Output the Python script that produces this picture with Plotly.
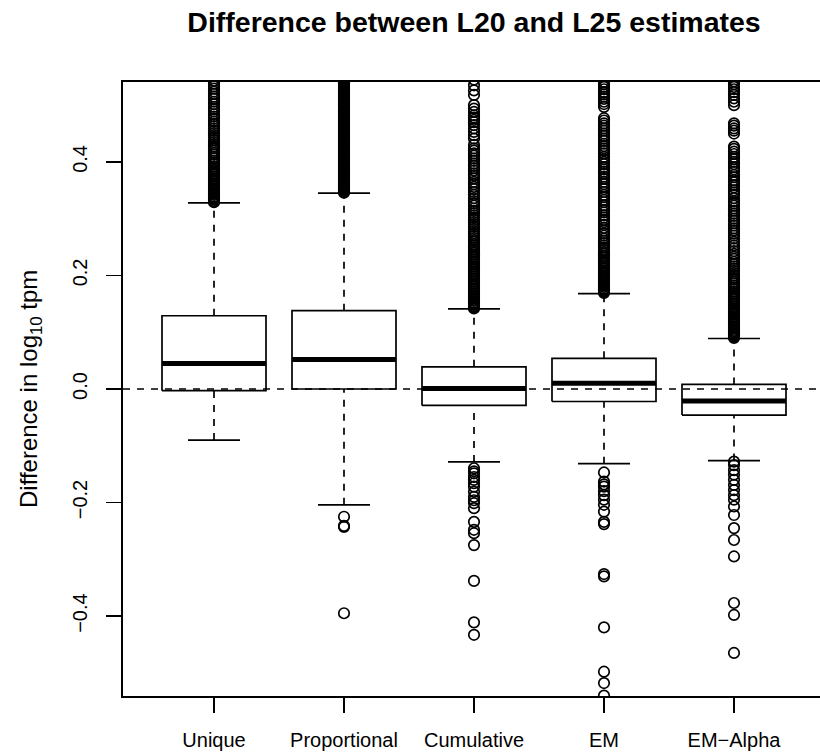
import plotly.graph_objects as go

categories = ["Unique", "Proportional", "Cumulative", "EM", "EM\u2212Alpha"]
q1 = [-0.003, 0.000, -0.029, -0.022, -0.046]
median = [0.045, 0.052, 0.001, 0.010, -0.021]
q3 = [0.129, 0.138, 0.039, 0.054, 0.008]
lower_whisker = [-0.090, -0.204, -0.1285, -0.1315, -0.126]
upper_whisker = [0.328, 0.345, 0.141, 0.168, 0.089]

out_unique = [0.329, 0.331, 0.333, 0.335, 0.337, 0.339, 0.342, 0.344, 0.346, 0.349, 0.351, 0.354,
              0.357, 0.359, 0.362, 0.365, 0.368, 0.371, 0.374, 0.377, 0.380, 0.383, 0.386, 0.389,
              0.392, 0.396, 0.399, 0.402, 0.406, 0.409, 0.413, 0.416, 0.420, 0.424, 0.427, 0.431,
              0.435, 0.439, 0.443, 0.447, 0.451, 0.455, 0.459, 0.463, 0.467, 0.471, 0.476, 0.480,
              0.484, 0.489, 0.493, 0.497, 0.502, 0.506, 0.511, 0.515, 0.520, 0.524, 0.529, 0.533,
              0.538, 0.543]
out_proportional = [0.346, 0.347, 0.349, 0.350, 0.352, 0.353, 0.355, 0.357, 0.358, 0.360, 0.362,
                    0.363, 0.365, 0.367, 0.369, 0.370, 0.372, 0.374, 0.376, 0.378, 0.380, 0.381,
                    0.383, 0.385, 0.387, 0.389, 0.391, 0.393, 0.395, 0.397, 0.399, 0.401, 0.403,
                    0.405, 0.407, 0.409, 0.411, 0.413, 0.415, 0.417, 0.419, 0.421, 0.423, 0.425,
                    0.427, 0.429, 0.431, 0.433, 0.435, 0.437, 0.439, 0.441, 0.443, 0.445, 0.447,
                    0.449, 0.451, 0.453, 0.455, 0.457, 0.459, 0.461, 0.463, 0.465, 0.467, 0.469,
                    0.471, 0.473, 0.475, 0.477, 0.479, 0.481, 0.483, 0.485, 0.487, 0.489, 0.491,
                    0.493, 0.495, 0.497, 0.499, 0.501, 0.503, 0.505, 0.507, 0.509, 0.511, 0.513,
                    0.515, 0.517, 0.519, 0.521, 0.523, 0.525, 0.527, 0.529, 0.531, 0.533, 0.535,
                    0.537, 0.539, 0.541, 0.544,
                    -0.225, -0.241, -0.243, -0.395]
out_cumulative = [0.142, 0.144, 0.146, 0.148, 0.150, 0.152, 0.155, 0.157, 0.159, 0.162, 0.164,
                  0.167, 0.169, 0.172, 0.175, 0.177, 0.180, 0.183, 0.186, 0.189, 0.192, 0.195,
                  0.198, 0.201, 0.204, 0.207, 0.210, 0.213, 0.216, 0.219, 0.222, 0.225, 0.228,
                  0.231, 0.234, 0.237, 0.240, 0.243, 0.246, 0.249, 0.252, 0.255, 0.259, 0.262,
                  0.266, 0.270, 0.274, 0.278, 0.282, 0.286, 0.290, 0.294, 0.298,
                  0.302, 0.306, 0.310, 0.314, 0.318, 0.323, 0.327, 0.331, 0.336, 0.342, 0.347,
                  0.352, 0.356, 0.361, 0.365, 0.371, 0.376, 0.380, 0.385, 0.389, 0.393, 0.397,
                  0.402, 0.406, 0.411, 0.415, 0.420, 0.424, 0.430, 0.441, 0.447, 0.453, 0.459,
                  0.465, 0.470, 0.474, 0.478, 0.482, 0.488, 0.494, 0.500, 0.518, 0.526, 0.535,
                  0.545,
                  -0.1396, -0.145, -0.1485, -0.155, -0.160, -0.166, -0.172, -0.181, -0.190,
                  -0.196, -0.201, -0.210, -0.234, -0.248, -0.254, -0.275, -0.338, -0.411, -0.433]
out_em = [0.169, 0.171, 0.173, 0.175, 0.177, 0.180, 0.182, 0.184, 0.187, 0.189, 0.192, 0.194,
          0.197, 0.200, 0.203, 0.206, 0.209, 0.212, 0.215, 0.218, 0.221, 0.224, 0.227, 0.231,
          0.234, 0.238, 0.241, 0.245, 0.249, 0.253, 0.257, 0.261, 0.265, 0.270, 0.274, 0.279,
          0.284,
          0.289, 0.294, 0.298, 0.302, 0.306, 0.311, 0.315, 0.320, 0.324, 0.329, 0.333, 0.338,
          0.342, 0.347, 0.352, 0.356, 0.361, 0.365, 0.370, 0.374, 0.379, 0.383, 0.387, 0.391,
          0.396, 0.400, 0.405, 0.409, 0.415, 0.420, 0.424, 0.428, 0.432, 0.437, 0.441, 0.446,
          0.450, 0.455, 0.459, 0.464, 0.468, 0.473, 0.477, 0.497, 0.502, 0.506, 0.511, 0.515,
          0.519, 0.523, 0.528, 0.532, 0.537, 0.541,
          -0.147, -0.163, -0.168, -0.172, -0.180, -0.187, -0.195, -0.204, -0.216, -0.234,
          -0.238, -0.326, -0.330, -0.420, -0.498, -0.518, -0.540]
out_em_alpha = [0.090, 0.092, 0.094, 0.096, 0.098, 0.100, 0.102, 0.104, 0.107, 0.109, 0.111,
                0.114, 0.116, 0.118, 0.121, 0.123, 0.126, 0.128, 0.131, 0.134, 0.136, 0.139,
                0.142, 0.145, 0.148, 0.151, 0.154, 0.157, 0.160, 0.163, 0.166, 0.169, 0.172,
                0.176, 0.179, 0.182, 0.186, 0.189, 0.193, 0.196, 0.200, 0.204, 0.208, 0.212,
                0.216, 0.220, 0.224, 0.229, 0.233, 0.238, 0.243, 0.248, 0.253, 0.259,
                0.265, 0.270, 0.274, 0.279, 0.283, 0.288, 0.292, 0.296, 0.300, 0.305, 0.309,
                0.314, 0.318, 0.323, 0.327, 0.331, 0.336, 0.342, 0.346, 0.350, 0.355, 0.359,
                0.364, 0.368, 0.373, 0.377, 0.383, 0.387, 0.391, 0.396, 0.400, 0.405, 0.409,
                0.414, 0.418, 0.423, 0.427, 0.450, 0.455, 0.459, 0.464, 0.468, 0.500, 0.506,
                0.512, 0.518, 0.523, 0.528, 0.532, 0.537, 0.542,
                -0.128, -0.134, -0.143, -0.151, -0.160, -0.169, -0.178, -0.187, -0.195, -0.207,
                -0.222, -0.245, -0.266, -0.295, -0.377, -0.398, -0.465]
outliers = [out_unique, out_proportional, out_cumulative, out_em, out_em_alpha]

ytick_vals = [-0.4, -0.2, 0.0, 0.2, 0.4]
ytick_text = ["\u22120.4", "\u22120.2", "0.0", "0.2", "0.4"]

FONT = "Liberation Sans, Arial, Helvetica, sans-serif"
LW = 1.7
BOXW = 0.8
CAPW = 0.4

fig = go.Figure()
line = dict(color="black", width=LW)
dline = dict(color="black", width=LW, dash="7px,7px")

for i, cat in enumerate(categories):
    x = i + 1
    # whiskers (dashed)
    fig.add_trace(go.Scatter(x=[x, x], y=[q3[i], upper_whisker[i]], mode="lines", line=dline,
                             hoverinfo="skip", showlegend=False))
    fig.add_trace(go.Scatter(x=[x, x], y=[lower_whisker[i], q1[i]], mode="lines", line=dline,
                             hoverinfo="skip", showlegend=False))
    # caps
    fig.add_trace(go.Scatter(x=[x - CAPW / 2, x + CAPW / 2], y=[upper_whisker[i]] * 2, mode="lines",
                             line=line, hoverinfo="skip", showlegend=False))
    fig.add_trace(go.Scatter(x=[x - CAPW / 2, x + CAPW / 2], y=[lower_whisker[i]] * 2, mode="lines",
                             line=line, hoverinfo="skip", showlegend=False))
    # box
    fig.add_trace(go.Scatter(x=[x - BOXW / 2, x + BOXW / 2, x + BOXW / 2, x - BOXW / 2, x - BOXW / 2],
                             y=[q1[i], q1[i], q3[i], q3[i], q1[i]], mode="lines", line=line,
                             hoverinfo="skip", showlegend=False))
    # median
    fig.add_trace(go.Scatter(x=[x - BOXW / 2, x + BOXW / 2], y=[median[i]] * 2, mode="lines",
                             line=dict(color="black", width=5), hoverinfo="skip", showlegend=False))
    # outliers
    if outliers[i]:
        fig.add_trace(go.Scatter(x=[x] * len(outliers[i]), y=outliers[i], mode="markers",
                                 marker=dict(symbol="circle-open", size=10.5, color="black",
                                             line=dict(color="black", width=LW)),
                                 hoverinfo="skip", showlegend=False))

# horizontal dashed reference line at 0
fig.add_shape(type="line", xref="paper", x0=0, x1=1, yref="y", y0=0, y1=0,
              line=dict(color="black", width=LW, dash="7px,7px"), layer="above")

# figure slightly wider than the window so the right frame edge falls off-screen (as in the reference)
W, H = 826, 753
ML, MR, MT, MB = 123, 0, 82, 57

fig.update_layout(
    width=W, height=H,
    margin=dict(l=ML, r=MR, t=MT, b=MB),
    paper_bgcolor="white", plot_bgcolor="white",
    font=dict(family=FONT, size=20, color="black"),
    title=dict(text="<b>Difference between L20 and L25 estimates</b>",
               x=474 / W, xanchor="center", xref="container",
               y=1 - 22.5 / H, yanchor="middle", yref="container",
               font=dict(family=FONT, size=28.5, color="black")),
    showlegend=False,
    xaxis=dict(range=[0.3, 0.3 + (W - ML) / 130.0], tickmode="array",
               tickvals=[1, 2, 3, 4, 5], ticktext=categories,
               ticks="outside", ticklen=15, tickwidth=LW, tickcolor="black",
               showline=True, linecolor="black", linewidth=LW, mirror=True,
               showgrid=False, zeroline=False, ticklabelstandoff=10,
               tickfont=dict(family=FONT, size=20, color="black")),
    yaxis=dict(range=[-0.5408, 0.5408], tickmode="array",
               tickvals=ytick_vals, ticktext=ytick_text, tickangle=-90,
               ticks="outside", ticklen=15, tickwidth=LW, tickcolor="black",
               showline=True, linecolor="black", linewidth=LW, mirror=False,
               showgrid=False, zeroline=False, ticklabelstandoff=11,
               tickfont=dict(family=FONT, size=20, color="black")),
    annotations=[dict(text="Difference in log<sub>10</sub> tpm", textangle=-90,
                      xref="paper", x=(30 - ML) / (W - ML), xanchor="center",
                      yref="paper", y=0.5, yanchor="middle", showarrow=False,
                      font=dict(family=FONT, size=24, color="black"))],
)

fig.write_html("out.html", config={"displayModeBar": False, "staticPlot": True},
               post_script="document.body.style.margin='0';document.body.style.overflow='hidden';")
